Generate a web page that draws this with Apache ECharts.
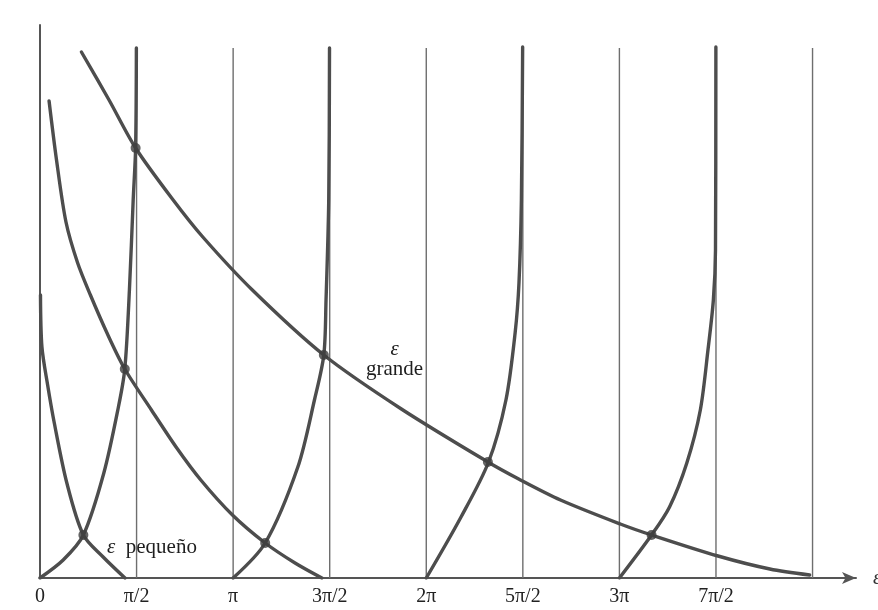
<!DOCTYPE html>
<html>
<head>
<meta charset="utf-8">
<script src="https://cdn.jsdelivr.net/npm/echarts@6/dist/echarts.min.js"></script>
<style>
  html, body { margin: 0; padding: 0; background: #ffffff; }
  #chart { width: 878px; height: 610px; }
</style>
</head>
<body>
<div id="chart"></div>
<script>
// x values are in units of π/2, y values in arbitrary height units
const tickLabels = ['0', 'π/2', 'π', '3π/2', '2π', '5π/2', '3π', '7π/2', ''];
const guideLinesX = [1, 2, 3, 4, 5, 6, 7, 8];
const guideTop = 530;

// tan branches
const tan1 = [[0,0],[0.240,18],[0.449,43],[0.661,105],[0.812,171],[0.878,209],[0.926,288],[0.965,378],[0.990,430],[0.998,530]];
const tan2 = [[2,0],[2.332,35],[2.670,111],[2.842,178],[2.939,223],[2.962,278],[2.990,378],[2.998,530]];
const tan3 = [[4,0],[4.36,61],[4.645,116],[4.825,178],[4.92,245],[4.96,295],[4.985,378],[4.998,531]];
const tan4 = [[6,0],[6.333,43],[6.519,71],[6.698,115],[6.838,168],[6.917,228],[6.973,278],[6.995,328],[6.999,531]];

// decreasing curves
const curveSmall = [[0.005,283],[0.02,231],[0.079,193],[0.148,155],[0.278,95],[0.449,43],[0.654,21],[0.88,0]];
const curveMid = [[0.094,477],[0.171,418],[0.269,356],[0.390,315],[0.522,283],[0.694,245],[0.878,209],[1.154,168],[1.409,131],[1.665,98],[1.993,63],[2.332,35],[2.641,15],[2.919,0]];
const curveLarge = [[0.429,526],[0.715,478],[0.990,430],[1.379,378],[1.686,341],[2.199,288],[2.939,223],[3.742,169],[4.638,116],[4.957,99],[5.390,78],[6.009,54],[6.333,43],[7.021,22],[7.558,9],[7.97,3]];

// intersection points
const roots = [[0.449,43],[0.878,209],[2.332,35],[0.990,430],[2.939,223],[4.638,116],[6.333,43]];

const curveColor = '#4d4d4d';
const guideColor = '#6e6e6e';
const serif = '"Liberation Serif", "DejaVu Serif", serif';

const chart = echarts.init(document.getElementById('chart'), null, { renderer: 'canvas' });

const series = [];
guideLinesX.forEach(function (k) {
  series.push({
    type: 'line', data: [[k, 0], [k, guideTop]], symbol: 'none', silent: true,
    lineStyle: { color: guideColor, width: 1.4 }, z: 1, animation: false
  });
});
[tan1, tan2, tan3, tan4, curveSmall, curveMid, curveLarge].forEach(function (d) {
  series.push({
    type: 'line', data: d, symbol: 'none', smooth: 0.3,
    lineStyle: { color: curveColor, width: 3.4, cap: 'round' }, z: 3, animation: false
  });
});
series.push({
  type: 'scatter', data: roots, symbol: 'circle', symbolSize: 10,
  itemStyle: { color: '#3d3d3d' }, z: 5, animation: false
});

chart.setOption({
  backgroundColor: '#ffffff',
  animation: false,
  grid: { left: 40, right: 22, top: 25, bottom: 32, containLabel: false, outerBoundsMode: 'none' },
  xAxis: {
    type: 'value', min: 0, max: 8.45, interval: 1,
    name: 'ε', nameLocation: 'end', nameGap: 17,
    nameTextStyle: { fontFamily: serif, fontSize: 21, fontStyle: 'italic', color: '#333', verticalAlign: 'middle' },
    axisLine: { show: true, onZero: false, lineStyle: { color: '#555', width: 2 }, symbol: ['none', 'arrow'], symbolSize: [9, 14] },
    axisTick: { show: false },
    splitLine: { show: false },
    axisLabel: {
      show: true, margin: 9, showMaxLabel: false,
      fontFamily: serif, fontSize: 20, color: '#222',
      formatter: function (v) { const i = Math.round(v); return (Math.abs(v - i) < 1e-6 && tickLabels[i] !== undefined) ? tickLabels[i] : ''; }
    }
  },
  yAxis: {
    type: 'value', min: 0, max: 553,
    axisLine: { show: true, lineStyle: { color: '#555', width: 2 } },
    axisTick: { show: false }, axisLabel: { show: false }, splitLine: { show: false }
  },
  series: series,
  graphic: [
    {
      type: 'text', left: 107, top: 537, silent: true,
      style: {
        text: '{e|ε}  pequeño', fill: '#1e1e1e',
        font: '21px ' + serif,
        rich: { e: { fontStyle: 'italic', fontFamily: serif, fontSize: 21, fill: '#1e1e1e' } }
      }
    },
    {
      type: 'text', left: 366, top: 339, silent: true,
      style: {
        text: '{e|ε}\ngrande', fill: '#1e1e1e', align: 'center',
        font: '21px ' + serif, lineHeight: 20,
        rich: { e: { fontStyle: 'italic', fontFamily: serif, fontSize: 21, fill: '#1e1e1e', align: 'center', lineHeight: 20 } }
      }
    }
  ]
});
</script>
</body>
</html>
